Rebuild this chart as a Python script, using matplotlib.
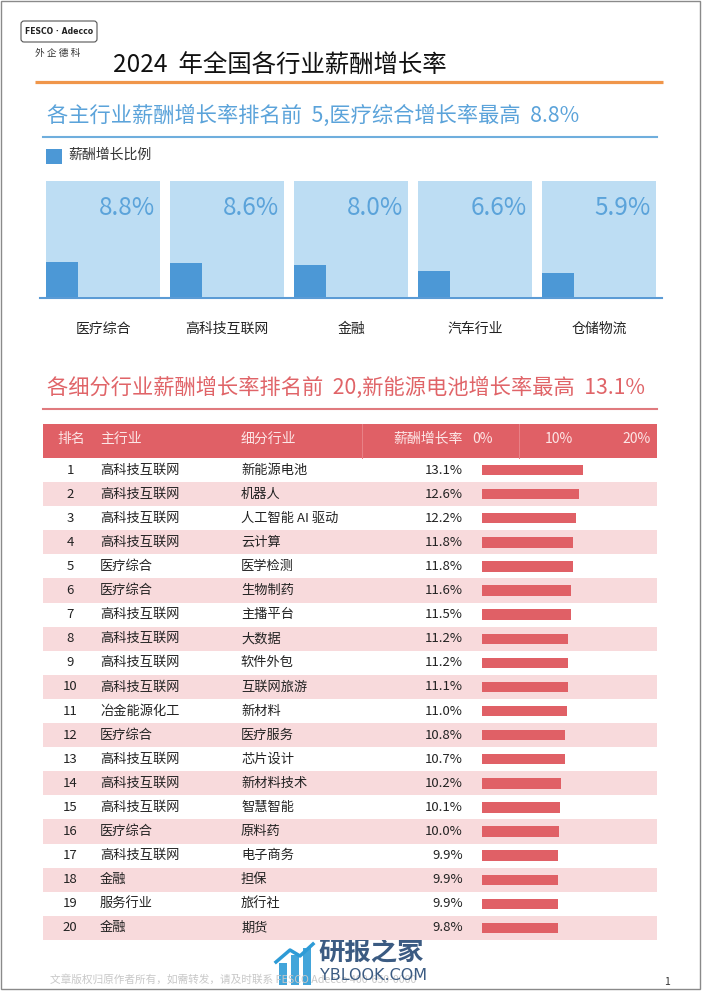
import matplotlib.pyplot as plt
from matplotlib.patches import Rectangle, FancyBboxPatch
from matplotlib.transforms import blended_transform_factory

plt.rcParams['font.family'] = ['Noto Sans CJK SC', 'DejaVu Sans']

W, H = 702, 991

# top chart: main industries
main_industries = ['医疗综合', '高科技互联网', '金融', '汽车行业', '仓储物流']
main_growth = [8.8, 8.6, 8.0, 6.6, 5.9]
main_full = 29  # background box height (axis max)

# table: top 20 sub-industries
ranks = list(range(1, 21))
sectors = ['高科技互联网', '高科技互联网', '高科技互联网', '高科技互联网', '医疗综合',
           '医疗综合', '高科技互联网', '高科技互联网', '高科技互联网', '高科技互联网',
           '冶金能源化工', '医疗综合', '高科技互联网', '高科技互联网', '高科技互联网',
           '医疗综合', '高科技互联网', '金融', '服务行业', '金融']
sub_sectors = ['新能源电池', '机器人', '人工智能 AI 驱动', '云计算', '医学检测',
               '生物制药', '主播平台', '大数据', '软件外包', '互联网旅游',
               '新材料', '医疗服务', '芯片设计', '新材料技术', '智慧智能',
               '原料药', '电子商务', '担保', '旅行社', '期货']
sub_growth = [13.1, 12.6, 12.2, 11.8, 11.8, 11.6, 11.5, 11.2, 11.2, 11.1,
              11.0, 10.8, 10.7, 10.2, 10.1, 10.0, 9.9, 9.9, 9.9, 9.8]
scale_ticks = [0, 10, 20]

BLUE_LIGHT = '#BDDDF3'
BLUE_DARK = '#4C98D6'
BLUE_TEXT = '#5BA3DA'
RED = '#E06066'
RED_TEXT = '#E06468'
PINK = '#F8DADC'


def box(x0, y0, x1, y1):
    # pixel rectangle -> figure fraction
    return [x0 / W, 1 - y1 / H, (x1 - x0) / W, (y1 - y0) / H]


fig = plt.figure(figsize=(W / 100, H / 100), dpi=100)
page = fig.add_axes([0, 0, 1, 1])
page.set_xlim(0, W)
page.set_ylim(H, 0)
page.axis('off')

# page frame
page.add_patch(Rectangle((1, 1), W - 3, H - 3, fill=False, ec='#8a8a8a', lw=1))

# logo
page.add_patch(FancyBboxPatch((21, 21), 76, 21, boxstyle='round,pad=0,rounding_size=3',
                              fill=False, ec='#555555', lw=0.8))
page.text(59, 31.5, 'FESCO · Adecco', ha='center', va='center', fontsize=5.6,
          fontweight='bold', color='#222222', family=['DejaVu Sans'])
page.text(58, 53, '外 企 德 科', ha='center', va='center', fontsize=7, color='#333333')

# title
page.text(113, 66, '2024  年全国各行业薪酬增长率', ha='left', va='center', fontsize=17.6,
          color='#111111')
page.plot([35, 663], [82, 82], color='#F0964A', lw=2.3, solid_capstyle='butt')

# section 1
page.text(47, 116, '各主行业薪酬增长率排名前  5,医疗综合增长率最高  8.8%', ha='left',
          va='center', fontsize=15.3, color=BLUE_TEXT)
page.plot([43, 657], [137, 137], color='#6FAEDD', lw=1.5)
page.add_patch(Rectangle((46, 149), 16, 15, color=BLUE_DARK, lw=0))
page.text(68, 155, '薪酬增长比例', ha='left', va='center', fontsize=10, color='#333333')

pitch, bw = 124, 114
ax = fig.add_axes(box(46, 181, 656, 297))
xs = list(range(len(main_growth)))
ax.bar(xs, [main_full] * len(xs), width=bw / pitch, align='edge', color=BLUE_LIGHT, lw=0)
ax.bar(xs, main_growth, width=32 / pitch, align='edge', color=BLUE_DARK, lw=0)
ax.set_xlim(0, 610 / pitch)
ax.set_ylim(0, main_full)
ax.axis('off')
for i, v in enumerate(main_growth):
    ax.text(i + (bw - 5) / pitch, main_full * 89 / 116, f'{v:.1f}%', ha='right',
            va='center', fontsize=17.5, color=BLUE_TEXT)
    page.text(46 + pitch * i + bw / 2, 329, main_industries[i], ha='center', va='center',
              fontsize=10, color='#222222')
page.plot([40, 662], [297.5, 297.5], color='#5B9BD5', lw=1.5)

# section 2
page.text(47, 388, '各细分行业薪酬增长率排名前  20,新能源电池增长率最高  13.1%',
          ha='left', va='center', fontsize=15.3, color=RED_TEXT)
page.plot([43, 657], [409, 409], color='#E07A7E', lw=1.5)

# header
page.add_patch(Rectangle((43, 424), 614, 34, color=RED, lw=0))
for sx in (362, 519):
    page.plot([sx, sx], [424, 458], color='#E98388', lw=0.7)
hdr = dict(va='center', fontsize=10, color='#FCE6E6')
hy = 439
page.text(57, hy, '排名', ha='left', **hdr)
page.text(100, hy, '主行业', ha='left', **hdr)
page.text(241, hy, '细分行业', ha='left', **hdr)
page.text(463, hy, '薪酬增长率', ha='right', **hdr)

tab = fig.add_axes(box(43, 458, 657, 940))
n = len(sub_growth)
tab.set_xlim(-57.0, 22.7)
tab.set_ylim(n - 0.5, -0.5)
tab.axis('off')
for i in range(n):
    if i % 2 == 1:
        tab.axhspan(i - 0.5, i + 0.5, color=PINK, lw=0)
tab.barh(range(n), sub_growth, height=0.43, color=RED, lw=0)

tick_tr = blended_transform_factory(tab.transData, page.transData)
for t in scale_ticks:
    tab.text(t, hy, f'{t}%', ha='center', transform=tick_tr, **hdr)

row_tr = blended_transform_factory(page.transData, tab.transData)
cell = dict(va='center', fontsize=9.5, color='#222222', transform=row_tr, zorder=5)
for i in range(n):
    tab.text(70, i, str(ranks[i]), ha='center', **cell)
    tab.text(100, i, sectors[i], ha='left', **cell)
    tab.text(241, i, sub_sectors[i], ha='left', **cell)
    tab.text(463, i, f'{sub_growth[i]:.1f}%', ha='right', **cell)

# footer
page.text(50, 979, '文章版权归原作者所有，如需转发，请及时联系 FESCO Adecco 400-650-0000',
          ha='left', va='center', fontsize=7.7, color='#C8C8C8')
page.text(667, 982, '1', ha='center', va='center', fontsize=7.5, color='#333333')

# site watermark
for bx, by in [(279, 963), (291, 955), (303, 948)]:
    page.add_patch(Rectangle((bx, by), 8, 985 - by, color='#2E9BD6', lw=0, alpha=0.9))
page.plot([276, 290, 300, 313], [962, 950, 956, 944], color='#2E9BD6', lw=2.5)
page.text(318, 953, '研报之家', ha='left', va='center', fontsize=19, fontweight='bold',
          color='#3B5B82')
page.text(320, 975, 'YBLOOK.COM', ha='left', va='center', fontsize=11.5,
          color='#3B5B82', family=['DejaVu Sans'])

fig.savefig('out.png', dpi=100)
